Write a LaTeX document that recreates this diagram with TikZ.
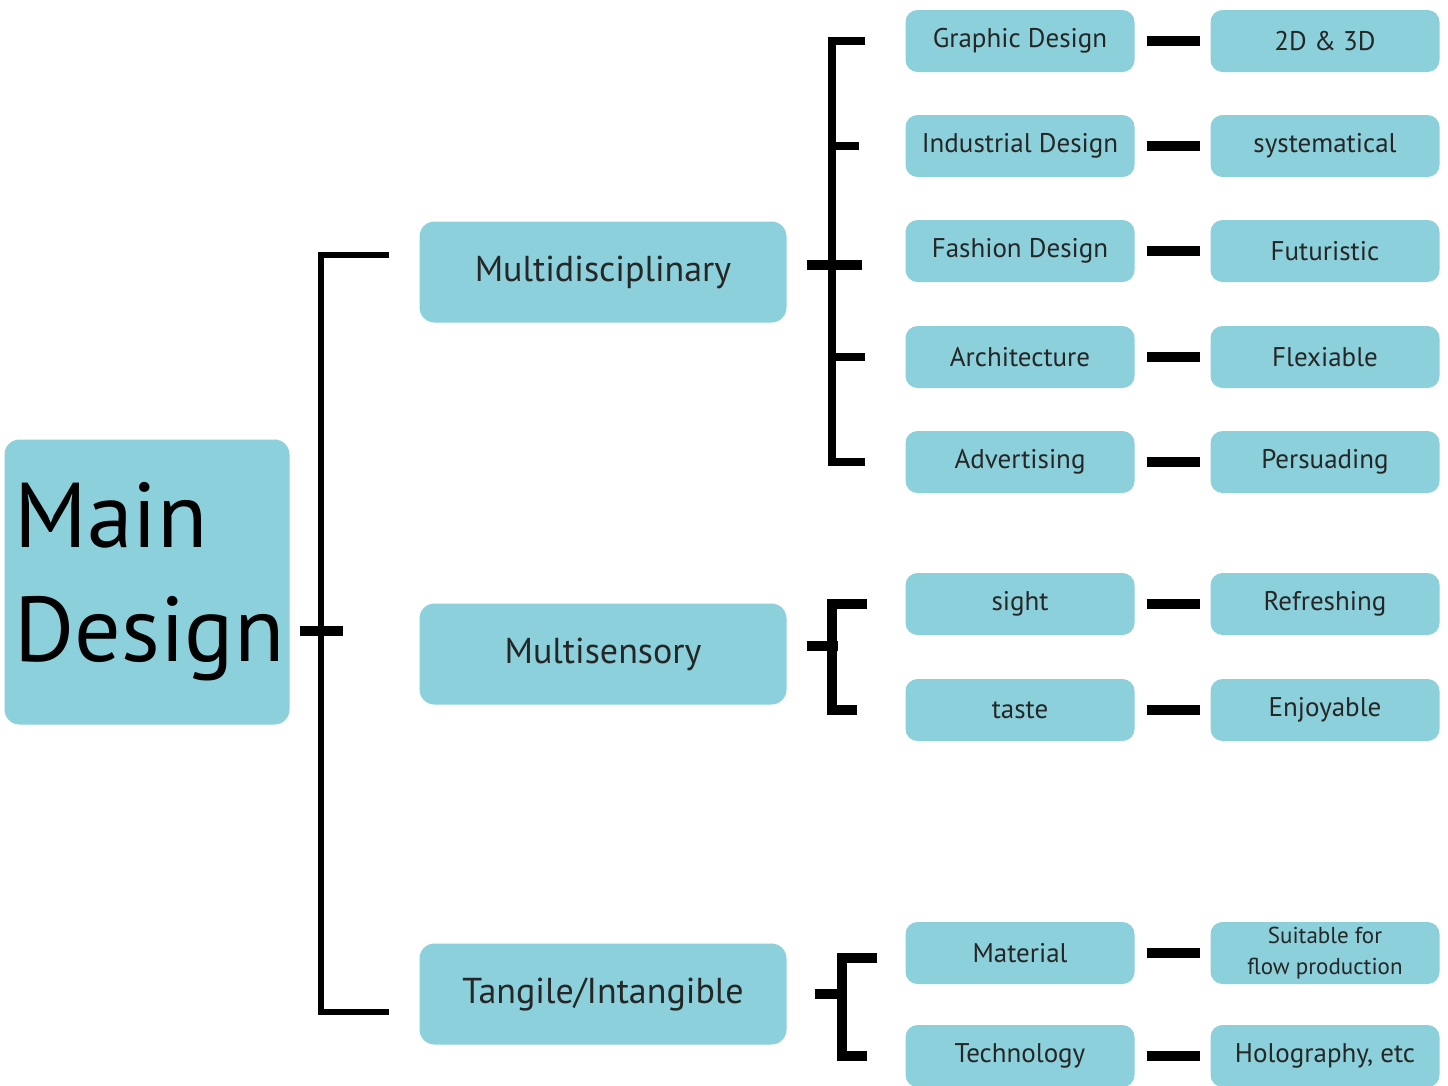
\documentclass[tikz,border=0pt]{standalone}
\usepackage{fontspec}
\setmainfont{PT Sans}
\usepackage{tikz}
\usetikzlibrary{positioning,calc}
\definecolor{boxblue}{RGB}{139,208,218}

\begin{document}
\begin{tikzpicture}[x=1pt,y=-1pt,
every node/.style={fill=boxblue,rounded corners=12pt,text=black!85,inner sep=0pt},
big/.style={minimum width=367pt,minimum height=101pt,rounded corners=15pt,font=\fontsize{36}{40}\selectfont},
small/.style={minimum width=229pt,minimum height=62pt,font=\fontsize{27}{30}\selectfont},
bar/.style={black,line width=10pt},
brk/.style={black,line width=8pt},
stem/.style={black,line width=5pt}]
\useasboundingbox (0,0) rectangle (1448,1085);

\node[minimum width=285pt,minimum height=285pt,rounded corners=15pt,text width=277pt,inner xsep=4pt,
  align=left,font=\fontsize{92}{114}\selectfont,text=black] (main) at (147,582) {\hspace*{6pt}Main\\\hspace*{6pt}Design};

\node[big] (multi) at (603,272) {Multidisciplinary};
\node[big] (sense) at (603,654) {Multisensory};
\node[big] (tangi) at (603,994) {Tangile/Intangible};

% second level
\node[small] (gd) at (1020,41) {Graphic Design};
\node[small] (id) at (1020,146) {Industrial Design};
\node[small] (fd) at (1020,251) {Fashion Design};
\node[small] (ar) at (1020,357) {Architecture};
\node[small] (ad) at (1020,462) {Advertising};
\node[small] (si) at (1020,604) {sight};
\node[small] (ta) at (1020,710) {taste};
\node[small] (ma) at (1020,953) {Material};
\node[small] (te) at (1020,1056) {Technology};

% third level
\node[small] (gd3) at (1325,41) {2D \& 3D};
\node[small] (id3) at (1325,146) {systematical};
\node[small] (fd3) at (1325,251) {Futuristic};
\node[small] (ar3) at (1325,357) {Flexiable};
\node[small] (ad3) at (1325,462) {Persuading};
\node[small] (si3) at (1325,604) {Refreshing};
\node[small] (ta3) at (1325,710) {Enjoyable};
\node[small,align=center,font=\fontsize{23}{31}\selectfont] (ma3) at (1325,953) {Suitable for\\flow production};
\node[small] (te3) at (1325,1056) {Holography, etc};

\foreach \n in {gd,id,fd,ar,ad,si,ta,ma,te}
  \draw[bar] ([xshift=12pt]\n.east) -- ([xshift=-10pt]\n3.west);

% main stem
\draw[bar] ([xshift=10pt,yshift=-49pt]main.east) -- ++(43,0);
\draw[stem,line width=6pt] ([xshift=-30pt,yshift=17pt]multi.west) -| ([xshift=-98pt]sense.west)
  |- ([xshift=-30pt,yshift=-18pt]tangi.west);

% multidisciplinary bracket
\draw[bar] ([xshift=20pt,yshift=7pt]multi.east) -- ++(55,0);
\draw[brk] ([xshift=-40pt]gd.west) -| ([xshift=-73pt]ad.west) -- ([xshift=-40pt]ad.west);
\draw[brk] ([xshift=-73pt]id.west) -- ([xshift=-46pt]id.west);
\draw[brk] ([xshift=-73pt]ar.west) -- ([xshift=-40pt]ar.west);

% multisensory bracket
\draw[bar] ([xshift=20pt,yshift=8pt]sense.east) -- ++(31,0);
\draw[bar] ([xshift=-38pt]si.west) -| ([xshift=-73pt]ta.west) -- ([xshift=-48pt]ta.west);

% tangible bracket
\draw[bar] ([xshift=28pt]tangi.east) -- ++(30,0);
\draw[bar] ([xshift=-28pt,yshift=-5pt]ma.west) -| ([xshift=-63pt]te.west) -- ([xshift=-38pt]te.west);
\end{tikzpicture}
\end{document}
